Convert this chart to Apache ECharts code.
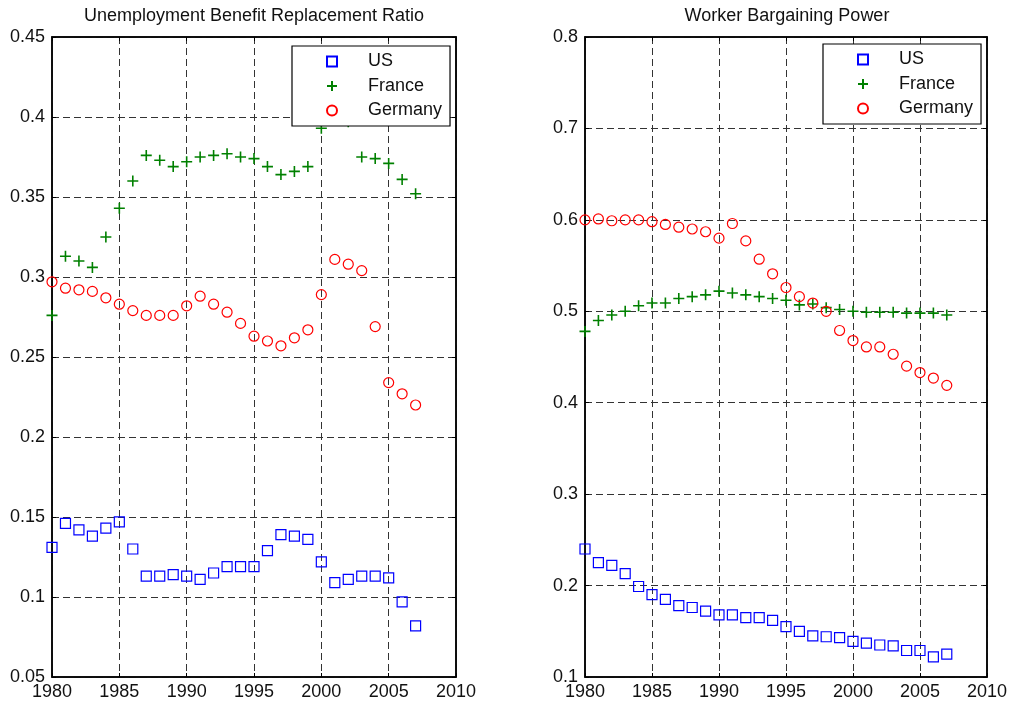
<!DOCTYPE html>
<html>
<head>
<meta charset="utf-8">
<script src="https://cdn.jsdelivr.net/npm/echarts@6/dist/echarts.min.js"></script>
<style>
  html, body { margin: 0; padding: 0; background: #fff; }
  #chart { width: 1010px; height: 705px; }
</style>
</head>
<body>
<div id="chart"></div>
<script>
// Years shared by both panels
const years = [1980, 1981, 1982, 1983, 1984, 1985, 1986, 1987, 1988, 1989,
               1990, 1991, 1992, 1993, 1994, 1995, 1996, 1997, 1998, 1999,
               2000, 2001, 2002, 2003, 2004, 2005, 2006, 2007];

// Unemployment benefit replacement ratio
const usRatio = [0.131, 0.146, 0.142, 0.138, 0.143, 0.147, 0.130, 0.113, 0.113, 0.114,
                 0.113, 0.111, 0.115, 0.119, 0.119, 0.119, 0.129, 0.139, 0.138, 0.136,
                 0.122, 0.109, 0.111, 0.113, 0.113, 0.112, 0.097, 0.082];
const franceRatio = [0.276, 0.313, 0.310, 0.306, 0.325, 0.343, 0.360, 0.376, 0.373, 0.369,
                     0.372, 0.375, 0.376, 0.377, 0.375, 0.374, 0.369, 0.364, 0.366, 0.369,
                     0.393, 0.405, 0.397, 0.375, 0.374, 0.371, 0.361, 0.352];
const germanyRatio = [0.297, 0.293, 0.292, 0.291, 0.287, 0.283, 0.279, 0.276, 0.276, 0.276,
                      0.282, 0.288, 0.283, 0.278, 0.271, 0.263, 0.260, 0.257, 0.262, 0.267,
                      0.289, 0.311, 0.308, 0.304, 0.269, 0.234, 0.227, 0.220];

// Worker bargaining power
const usPower = [0.240, 0.225, 0.222, 0.213, 0.199, 0.190, 0.185, 0.178, 0.176, 0.172,
                 0.168, 0.168, 0.165, 0.165, 0.162, 0.155, 0.150, 0.145, 0.144, 0.143,
                 0.139, 0.137, 0.135, 0.134, 0.129, 0.129, 0.122, 0.125];
const francePower = [0.478, 0.490, 0.496, 0.500, 0.506, 0.509, 0.509, 0.514, 0.516, 0.518,
                     0.522, 0.520, 0.518, 0.516, 0.514, 0.512, 0.507, 0.508, 0.504, 0.502,
                     0.500, 0.499, 0.499, 0.499, 0.498, 0.498, 0.498, 0.496];
const germanyPower = [0.600, 0.601, 0.599, 0.600, 0.600, 0.598, 0.595, 0.592, 0.590, 0.587,
                      0.580, 0.596, 0.577, 0.557, 0.541, 0.526, 0.516, 0.509, 0.500, 0.479,
                      0.468, 0.461, 0.461, 0.453, 0.440, 0.433, 0.427, 0.419];

const countries = ['US', 'France', 'Germany'];
const panelTitles = ['Unemployment Benefit Replacement Ratio', 'Worker Bargaining Power'];

const FONT = 'Liberation Sans, Arial, Helvetica, sans-serif';
const FONT_SIZE = 18;
const squarePath = 'path://M0,0L10,0L10,10L0,10Z';
const plusPath = 'path://M5,0L5,10M0,5L10,5';

const markerStyles = {
  US: { symbol: squarePath, color: '#0000ff', size: 10, width: 1.2 },
  France: { symbol: plusPath, color: '#008000', size: 11, width: 1.6 },
  Germany: { symbol: 'circle', color: '#ff0000', size: 10, width: 1.2 }
};

function pairs(values) {
  return years.map((y, i) => [y, values[i]]);
}

function makeSeries(name, values, gridIdx) {
  const m = markerStyles[name];
  return {
    name: name,
    type: 'scatter',
    xAxisIndex: gridIdx * 2,
    yAxisIndex: gridIdx * 2,
    data: pairs(values),
    symbol: m.symbol,
    symbolSize: m.size,
    symbolKeepAspect: true,
    itemStyle: {
      color: 'rgba(0,0,0,0)',
      borderColor: m.color,
      borderWidth: m.width,
      opacity: 1
    },
    emphasis: { disabled: true },
    z: 2
  };
}

const gridLefts = [52, 585];
const gridW = 404, gridTop = 37, gridH = 640;
const yRanges = [[0.05, 0.45, 0.05], [0.1, 0.8, 0.1]];

const dash = { type: [7, 4], color: '#333', width: 1 };
const labelStyle = { fontFamily: FONT, fontSize: FONT_SIZE, color: '#111' };
const frame = { show: true, lineStyle: { color: '#000', width: 1.5 } };
const innerTick = { show: true, inside: true, length: 4, lineStyle: { color: '#000' } };

const grids = [], xAxes = [], yAxes = [], titles = [], legends = [];
gridLefts.forEach((left, g) => {
  grids.push({
    left: left, top: gridTop, width: gridW, height: gridH,
    show: true, borderColor: '#000', borderWidth: 1.5, backgroundColor: 'transparent'
  });
  // bottom axis carries the year labels and vertical grid
  xAxes.push({
    type: 'value', gridIndex: g, min: 1980, max: 2010, interval: 5,
    axisLine: frame, axisTick: innerTick,
    axisLabel: Object.assign({ margin: 6, showMinLabel: true, showMaxLabel: true,
                               formatter: v => String(v) }, labelStyle),
    splitLine: { show: true, lineStyle: dash }
  });
  // top axis, ticks only
  xAxes.push({
    type: 'value', gridIndex: g, position: 'top', min: 1980, max: 2010, interval: 5,
    axisLine: frame, axisTick: innerTick,
    axisLabel: { show: false }, splitLine: { show: false }
  });
  const [ymin, ymax, yint] = yRanges[g];
  yAxes.push({
    type: 'value', gridIndex: g, min: ymin, max: ymax, interval: yint,
    axisLine: frame, axisTick: innerTick,
    axisLabel: Object.assign({ margin: 7, showMinLabel: true, showMaxLabel: true,
                               formatter: v => String(+v.toFixed(2)) }, labelStyle),
    splitLine: { show: true, lineStyle: dash }
  });
  // right axis, ticks only
  yAxes.push({
    type: 'value', gridIndex: g, position: 'right', min: ymin, max: ymax, interval: yint,
    axisLine: frame, axisTick: innerTick,
    axisLabel: { show: false }, splitLine: { show: false }
  });
  titles.push({
    text: panelTitles[g],
    left: left + gridW / 2, top: 7, textAlign: 'center', padding: 0,
    textStyle: { fontFamily: FONT, fontSize: FONT_SIZE, fontWeight: 'normal', color: '#111' }
  });
});

[[292, 46], [823, 44]].forEach(([lx, ly]) => {
  legends.push({
    data: countries, orient: 'vertical', left: lx, top: ly,
    itemWidth: 10, itemHeight: 10, itemGap: 4.5,
    symbolKeepAspect: true,
    padding: [5.5, 8, 5.5, 34],
    backgroundColor: '#fff', borderColor: '#000', borderWidth: 1.2, borderRadius: 0,
    textStyle: { fontFamily: FONT, fontSize: FONT_SIZE, color: '#111', lineHeight: 20,
                 padding: [0, 0, 0, 26] },
    selectedMode: false, z: 10
  });
});

const series = [
  makeSeries('US', usRatio, 0),
  makeSeries('France', franceRatio, 0),
  makeSeries('Germany', germanyRatio, 0),
  makeSeries('US', usPower, 1),
  makeSeries('France', francePower, 1),
  makeSeries('Germany', germanyPower, 1)
];

const chart = echarts.init(document.getElementById('chart'), null, { renderer: 'canvas' });
chart.setOption({
  animation: false,
  backgroundColor: '#fff',
  title: titles,
  legend: legends,
  grid: grids,
  xAxis: xAxes,
  yAxis: yAxes,
  series: series
});
</script>
</body>
</html>
